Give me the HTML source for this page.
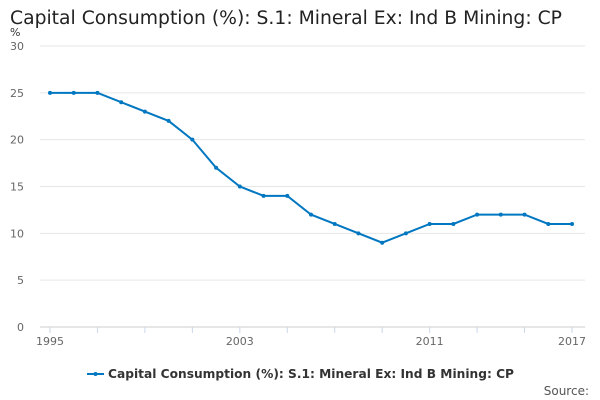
<!DOCTYPE html>
<html><head><meta charset="utf-8"><style>
body{margin:0;background:#fff;font-family:"DejaVu Sans","Liberation Sans",sans-serif;}
svg{display:block}
</style></head><body>
<svg width="600" height="400" id="c">
<text x="10" y="24" font-size="18.5" fill="#222" textLength="552" lengthAdjust="spacingAndGlyphs">Capital Consumption (%): S.1: Mineral Ex: Ind B Mining: CP</text>
<text x="10" y="36" font-size="11" fill="#333">%</text>
<g id="grid"></g><g id="series"></g>
<g>
<line x1="87" y1="374" x2="104" y2="374" stroke="#0077c0" stroke-width="2"/>
<circle cx="95.5" cy="374" r="2" fill="#0077c0"/>
<text x="108" y="378" font-size="12.5" font-weight="bold" fill="#333" textLength="406" lengthAdjust="spacingAndGlyphs">Capital Consumption (%): S.1: Mineral Ex: Ind B Mining: CP</text>
</g>
<text x="589" y="395" font-size="12" fill="#555" text-anchor="end">Source:</text>
</svg>
<script>
const years=[1995,1996,1997,1998,1999,2000,2001,2002,2003,2004,2005,2006,2007,2008,2009,2010,2011,2012,2013,2014,2015,2016,2017];
const values=[25,25,25,24,23,22,20,17,15,14,14,12,11,10,9,10,11,11,12,12,12,11,11];
const yTicks=[0,5,10,15,20,25,30];
const xLabels=[1995,2003,2011,2017];
const NS="http://www.w3.org/2000/svg";
const x=y=>50+(y-1995)*(522/22);
const yv=v=>327-v*(281/30);
function el(t,a,p){const e=document.createElementNS(NS,t);for(const k in a)e.setAttribute(k,a[k]);p.appendChild(e);return e;}
const g=document.getElementById('grid');
yTicks.forEach(t=>{
 const l=el('line',{x1:40,x2:585,y1:yv(t),y2:yv(t),stroke:t===0?'#ccc':'#e6e6e6'},g);
 
 
 const tx=el('text',{x:24,y:yv(t)+4,'font-size':11,fill:'#666','text-anchor':'end'},g);tx.textContent=t;
 
 
});
years.forEach(yr=>{ if((yr-1995)%2===0){const l=el('line',{x1:x(yr),x2:x(yr),y1:327,y2:333,stroke:'#ccd6eb'},g);
 
 }});
xLabels.forEach(yr=>{const tx=el('text',{x:x(yr),y:345,'font-size':11,fill:'#666','text-anchor':'middle'},g);tx.textContent=yr;
 
 });
const s=document.getElementById('series');
const p=el('polyline',{points:years.map((yr,i)=>x(yr)+','+yv(values[i])).join(' '),fill:'none',stroke:'#0077c0','stroke-width':2},s);


years.forEach((yr,i)=>{const c=el('circle',{cx:x(yr),cy:yv(values[i]),r:2,fill:'#0077c0'},s);
 
 });
</script>
</body></html>
